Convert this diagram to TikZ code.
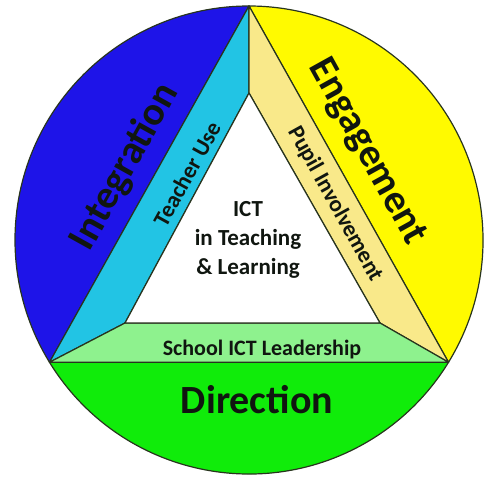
\documentclass[tikz,border=0pt]{standalone}
\usepackage{xcolor}
\usepackage{fontspec}
\setmainfont{Carlito}
\usepackage{tikz}
\usetikzlibrary{calc}

\definecolor{segblue}{RGB}{30,20,232}
\definecolor{segcyan}{RGB}{34,196,228}
\definecolor{segyellow}{RGB}{255,250,0}
\definecolor{segpaleyellow}{RGB}{249,233,138}
\definecolor{seggreen}{RGB}{16,236,10}
\definecolor{segpalegreen}{RGB}{142,242,142}
\definecolor{edgecol}{RGB}{40,52,30}
\definecolor{txtcol}{RGB}{16,22,16}

\tikzset{
    part/.style = {draw = edgecol, line width = 1.2pt, line join = round},
    bigtxt/.style = {text = txtcol, font = \bfseries\fontsize{40}{40}\selectfont},
    bandtxt/.style = {text = txtcol, font = \bfseries\fontsize{23}{23}\selectfont},
}

\begin{document}
\begin{tikzpicture}[x = 1pt, y = 1pt]
        \useasboundingbox (0, 0) rectangle (489, 480);

        \coordinate (c) at (249, 240);
        \coordinate (top) at ($(c) + (90:234)$);
        \coordinate (bl) at ($(c) + (211.5:234)$);
        \coordinate (br) at ($(c) + (-31.5:234)$);
        \coordinate (itop) at (249, 387);
        \coordinate (ibl) at (125, 157);
        \coordinate (ibr) at (380, 157);

        \filldraw[part, fill = segblue] (top) arc[start angle = 90, end angle = 211.5, radius = 234] -- cycle;
        \filldraw[part, fill = segyellow] (br) arc[start angle = -31.5, end angle = 90, radius = 234] -- cycle;
        \filldraw[part, fill = seggreen] (bl) arc[start angle = 211.5, end angle = 328.5, radius = 234] -- cycle;

        \filldraw[part, fill = segcyan] (top) -- (bl) -- (ibl) -- (itop) -- cycle;
        \filldraw[part, fill = segpaleyellow] (top) -- (br) -- (ibr) -- (itop) -- cycle;
        \filldraw[part, fill = segpalegreen] (bl) -- (br) -- (ibr) -- (ibl) -- cycle;
        \filldraw[part, fill = white] (itop) -- (ibl) -- (ibr) -- cycle;

        \node[bigtxt, rotate = 61] (integration) at (125, 313) {Integration};
        \node[bigtxt, rotate = -61] (engagement) at (367, 328) {Engagement};
        \node[bigtxt] (direction) at (257, 80) {Direction};

        \node[bandtxt, rotate = 61] (teacher) at (187, 306) {Teacher Use};
        \node[bandtxt, rotate = -61] (pupil) at (335, 276) {Pupil Involvement};
        \node[bandtxt, font = \bfseries\fontsize{22}{22}\selectfont] (leadership) at (262, 130) {School ICT Leadership};

        \node[bandtxt, align = center, font = \bfseries\fontsize{23}{29}\selectfont] (ict) at (248, 240)
            {ICT\\in Teaching\\\& Learning};
    \end{tikzpicture}
\end{document}
